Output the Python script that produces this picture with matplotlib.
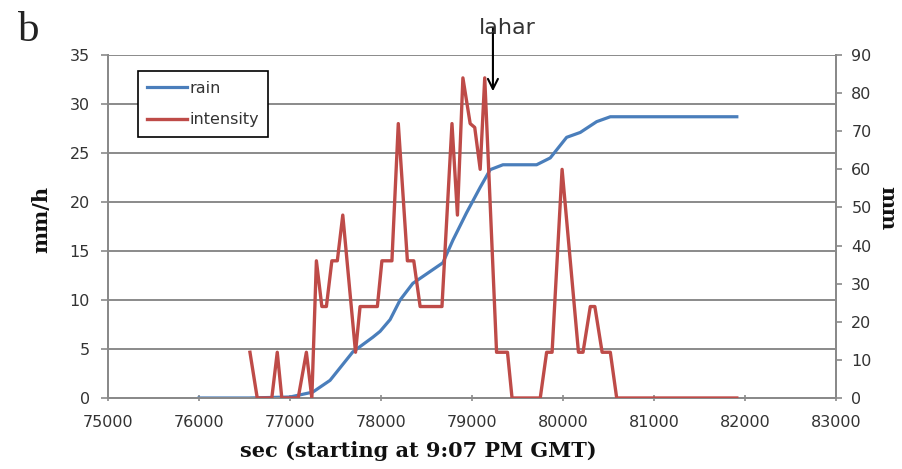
import matplotlib
matplotlib.use("Agg")
import matplotlib.pyplot as plt

# cumulative rain (mm), left axis
rain_t = [76000, 76550, 77000, 77250, 77440, 77690, 77910, 77990, 78100, 78210,
          78350, 78680, 78790, 78940, 79090, 79200, 79340, 79710, 79860, 80040,
          80190, 80370, 80520, 81910]
rain_mm = [0, 0, 0.1, 0.6, 1.8, 4.7, 6.2, 6.8, 8.0, 10.0,
           11.7, 13.8, 16.1, 18.9, 21.5, 23.3, 23.8, 23.8, 24.5, 26.6,
           27.1, 28.2, 28.7, 28.7]

# rain intensity (mm/h), right axis
int_t = [76560, 76640, 76800, 76860, 76910, 77090, 77180, 77240, 77290, 77350,
         77400, 77460, 77520, 77580, 77720, 77770, 77960, 78010, 78120, 78190,
         78290, 78360, 78430, 78670, 78780, 78840, 78900, 78980, 79030, 79090,
         79140, 79270, 79390, 79440, 79750, 79820, 79880, 79990, 80170, 80220,
         80300, 80350, 80430, 80520, 80590, 81910]
int_val = [12, 0, 0, 12, 0, 0, 12, 0, 36, 24,
           24, 36, 36, 48, 12, 24, 24, 36, 36, 72,
           36, 36, 24, 24, 72, 48, 84, 72, 71, 60,
           84, 12, 12, 0, 0, 12, 12, 60, 12, 12,
           24, 24, 12, 12, 0, 0]

x_ticks = [75000, 76000, 77000, 78000, 79000, 80000, 81000, 82000, 83000]
left_ticks = [0, 5, 10, 15, 20, 25, 30, 35]
right_ticks = [0, 10, 20, 30, 40, 50, 60, 70, 80, 90]

lahar_t = 79230

BLUE = "#4a7ebb"
RED = "#be4b48"
GRID = "#8a8a8a"
TXT = "#333333"
sans = "DejaVu Sans"
serif = "DejaVu Serif"

fig = plt.figure(figsize=(9.03, 4.69), dpi=100)
ax = fig.add_axes([0.1196, 0.1514, 0.8062, 0.7313])
ax2 = ax.twinx()

# series
l1, = ax.plot(rain_t, rain_mm, color=BLUE, lw=2.3, label="rain", zorder=3)
l2, = ax2.plot(int_t, int_val, color=RED, lw=2.4, label="intensity", zorder=3)

# axes ranges and ticks
ax.set_xlim(75000, 83000)
ax.set_ylim(0, 35)
ax2.set_ylim(0, 90)
ax.set_xticks(x_ticks)
ax.set_yticks(left_ticks)
ax2.set_yticks(right_ticks)

# horizontal grid from the left scale
ax.yaxis.grid(True, color=GRID, lw=1.4)
ax.set_axisbelow(True)

for a in (ax, ax2):
    a.spines["top"].set_visible(False)
    for s in ("left", "right", "bottom"):
        a.spines[s].set_color(GRID)
        a.spines[s].set_linewidth(1.4)

ax.tick_params(axis="y", length=5, width=1.2, color=GRID, pad=8,
               labelsize=11.5, labelcolor=TXT)
ax.tick_params(axis="x", direction="inout", length=5, width=1.2, color=GRID,
               pad=10, labelsize=11.5, labelcolor=TXT)
ax2.tick_params(axis="y", length=4, width=1.2, color=GRID, pad=7,
                labelsize=11.5, labelcolor=TXT)
for lab in ax.get_xticklabels() + ax.get_yticklabels() + ax2.get_yticklabels():
    lab.set_fontfamily(sans)

# axis titles
ax.set_xlabel("sec (starting at 9:07 PM GMT)", fontfamily=serif,
              fontweight="bold", fontsize=15, color="#111111")
ax.xaxis.set_label_coords(0.426, -0.126)
ax.set_ylabel("mm/h", fontfamily=serif, fontweight="bold", fontsize=15,
              color="#111111")
ax.yaxis.set_label_coords(-0.078, 0.52)
ax2.set_ylabel("mm", fontfamily=serif, fontweight="bold", fontsize=15,
               rotation=270, va="bottom", color="#111111")
ax2.yaxis.set_label_coords(1.057, 0.554)

# legend
leg = ax.legend(handles=[l1, l2], loc="upper left",
                bbox_to_anchor=(0.041, 0.953), borderaxespad=0,
                fancybox=False, framealpha=1, edgecolor="black",
                handlelength=2.5, handletextpad=0.12,
                borderpad=0.6, labelspacing=1.05,
                prop={"family": sans, "size": 11.5})
leg.get_frame().set_linewidth(1.2)
for t in leg.get_texts():
    t.set_color(TXT)
leg.set_zorder(10)

# lahar marker: vertical arrow with the label just above it
ax2.annotate("", xy=(lahar_t, 80.5), xytext=(lahar_t, 97),
             arrowprops=dict(arrowstyle="->", color="black", lw=1.5,
                             mutation_scale=18, shrinkA=0, shrinkB=0),
             annotation_clip=False)
ax2.text(lahar_t + 155, 95.5, "lahar", ha="center", va="baseline",
         fontsize=16, fontfamily=sans, color=TXT, clip_on=False)

# panel letter
fig.text(0.02, 0.912, "b", fontfamily="Liberation Serif", fontsize=31,
         color="#222222")

fig.savefig("out.png", dpi=100)
